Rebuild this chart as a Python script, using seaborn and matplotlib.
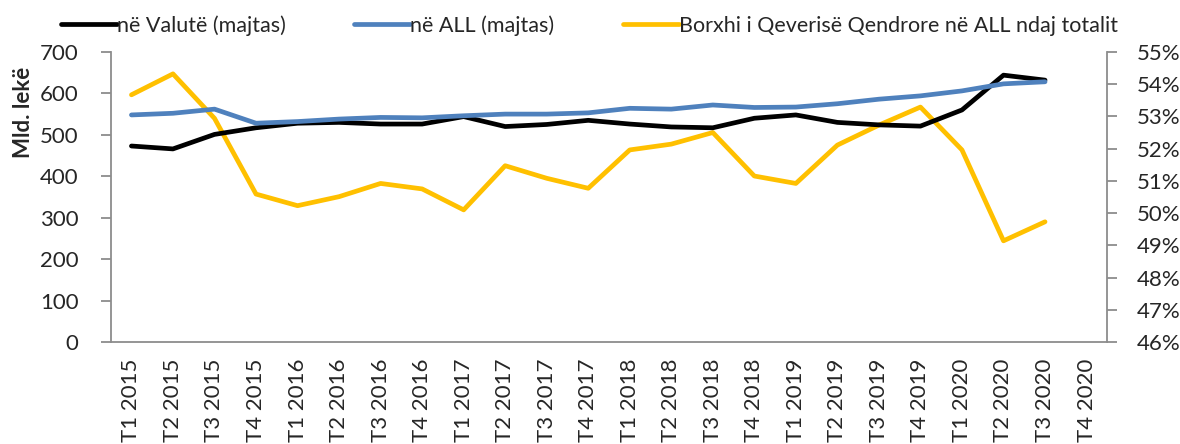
import numpy as np
import pandas as pd
import seaborn as sns
from matplotlib import pyplot as plt
from matplotlib.ticker import FixedLocator, PercentFormatter

# Tremujorët (T4 2020 pa të dhëna)
periods = [f"T{q} {y}" for y in range(2015, 2021) for q in range(1, 5)]

# Mld. lekë, borxhi në valutë (majtas)
valute = [473, 466, 501, 517, 528, 530, 526, 526, 544, 520, 525, 535,
          526, 519, 517, 540, 548, 530, 524, 521, 560, 644, 632]
# Mld. lekë, borxhi në ALL (majtas)
all_lek = [548, 552, 562, 528, 532, 538, 542, 541, 546, 550, 550, 553,
           564, 562, 572, 566, 567, 575, 586, 594, 606, 623, 628]
# Pesha e borxhit në ALL ndaj totalit, % (djathtas)
share_all = [53.67, 54.32, 52.94, 50.59, 50.23, 50.51, 50.92, 50.75, 50.10, 51.47,
             51.08, 50.77, 51.96, 52.14, 52.50, 51.15, 50.92, 52.11, 52.73, 53.29,
             51.96, 49.14, 49.73]

n = len(valute)
df = pd.DataFrame({
    "pos": np.arange(n),
    "valute": valute,
    "all": all_lek,
    "share": share_all,
})

sns.set_style("white")
plt.rcParams["font.family"] = ["Lato", "DejaVu Sans"]

GREY = "#8c8c8c"
BLACK = "#000000"
BLUE = "#4f81bd"
YELLOW = "#ffc000"
LW = 3.4
FS = 16

fig = plt.figure(figsize=(11.8, 4.44), dpi=100)
ax = fig.add_axes([0.0938, 0.2297, 0.8446, 0.6533])
ax2 = ax.twinx()

sns.lineplot(data=df, x="pos", y="valute", ax=ax, color=BLACK, lw=LW,
             label="në Valutë (majtas)", legend=False)
sns.lineplot(data=df, x="pos", y="all", ax=ax, color=BLUE, lw=LW,
             label="në ALL (majtas)", legend=False)
sns.lineplot(data=df, x="pos", y="share", ax=ax2, color=YELLOW, lw=LW,
             label="Borxhi i Qeverisë Qendrore në ALL ndaj totalit", legend=False)

# left-axis lines on top of the yellow one
ax.set_zorder(ax2.get_zorder() + 1)
ax.patch.set_visible(False)

ax.set_xlim(-0.5, len(periods) - 0.5)
ax.set_ylim(0, 700)
ax.set_yticks(range(0, 701, 100))
ax2.set_ylim(46, 55)
ax2.set_yticks(range(46, 56))
ax2.yaxis.set_major_formatter(PercentFormatter(decimals=0))

ax.set_xticks(np.arange(len(periods)))
ax.set_xticklabels(periods, rotation=90)
ax.xaxis.set_minor_locator(FixedLocator(np.arange(len(periods) + 1) - 0.5))
ax.tick_params(axis="x", which="major", length=0, pad=12, labelsize=FS)
ax.tick_params(axis="x", which="minor", length=7, width=1.3, color=GREY, direction="out")
ax.tick_params(axis="y", length=7, width=1.3, color=GREY, direction="out", labelsize=FS, pad=16)
ax2.tick_params(axis="y", length=7, width=1.3, color=GREY, direction="out", labelsize=FS, pad=14)

ax.set_xlabel("")
ax.set_ylabel("Mld. lekë", fontsize=16, fontweight="bold")
ax.yaxis.set_label_coords(-0.077, 0.79)
ax2.set_ylabel("")

for a in (ax, ax2):
    for sp in a.spines.values():
        sp.set_color(GREY)
        sp.set_linewidth(1.3)
    a.spines["top"].set_visible(False)
ax.spines["right"].set_visible(False)
ax2.spines["left"].set_visible(False)
ax2.spines["bottom"].set_visible(False)

h1, l1 = ax.get_legend_handles_labels()
h2, l2 = ax2.get_legend_handles_labels()
fig.legend(h1 + h2, l1 + l2, ncol=3, loc="upper left", bbox_to_anchor=(0.035, 1.01),
           frameon=False, fontsize=15.5, handlelength=2.6, handletextpad=0.0,
           columnspacing=3.2)

fig.savefig("out.png", dpi=100)
